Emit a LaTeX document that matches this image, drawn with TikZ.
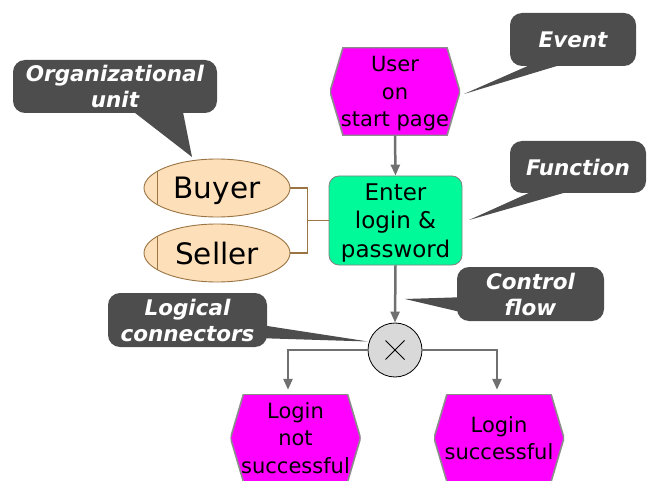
\documentclass[tikz,border=0pt]{standalone}
\usepackage{fontspec}
\setmainfont{DejaVu Sans}
\usetikzlibrary{arrows.meta,shapes.geometric,calc}

\definecolor{evfill}{HTML}{FF00FF}
\definecolor{evline}{HTML}{8C8C8C}
\definecolor{fnfill}{HTML}{00FA9A}
\definecolor{fnline}{HTML}{808080}
\definecolor{orgfill}{HTML}{FDDFB9}
\definecolor{orgline}{HTML}{9A7443}
\definecolor{flowgray}{HTML}{707070}
\definecolor{callgray}{HTML}{4D4D4D}
\definecolor{xorfill}{HTML}{D9D9D9}

\tikzset{
  event/.style={rectangle, inner sep=0pt, minimum width=130pt, minimum height=88pt,
    align=center, text depth=0pt, font=\fontsize{21}{27.2}\selectfont,
    path picture={
      \path[fill=evfill, draw=evline, line width=1.6pt]
        (path picture bounding box.west)
        -- ([xshift=13pt]path picture bounding box.north west)
        -- ([xshift=-13pt]path picture bounding box.north east)
        -- (path picture bounding box.east)
        -- ([xshift=-13pt]path picture bounding box.south east)
        -- ([xshift=13pt]path picture bounding box.south west)
        -- cycle;
    }},
  function/.style={rectangle, rounded corners=10pt, fill=fnfill, draw=fnline, line width=0.8pt,
    inner sep=0pt, minimum width=133pt, minimum height=89pt, align=center, text depth=0pt,
    font=\fontsize{23}{28.5}\selectfont},
  orgunit/.style={ellipse, fill=orgfill, draw=orgline, line width=0.9pt, inner sep=0pt,
    minimum width=146pt, minimum height=58pt, text depth=0pt, font=\fontsize{29.5}{34}\selectfont},
  callout/.style={rectangle, rounded corners=12pt, fill=callgray, text=white, inner sep=0pt,
    align=center, text depth=0pt, font=\bfseries\itshape\fontsize{21.5}{26}\selectfont},
  flow/.style={draw=flowgray, line width=2.5pt, -{Triangle[length=11pt,width=9pt]}},
  orglink/.style={draw=orgline, line width=1.1pt},
  xorgate/.style={circle, draw=black, fill=xorfill, line width=0.8pt, minimum size=54pt, inner sep=0pt}
}

\begin{document}
\begin{tikzpicture}[x=1pt,y=-1pt]
\useasboundingbox (0,0) rectangle (648,481);

% EPC elements
\node[event] (start) at (395,91.5) {User\\on\\start page};
\node[function] (enter) at (395.5,220.5) {Enter\\login \&\\password};
\node[orgunit] (buyer) at (217,188) {Buyer};
\node[orgunit] (seller) at (217,253) {Seller};
\node[xorgate] (xor) at (395,350) {};
\node[event] (fail) at (295.5,438) {Login\\not\\successful};
\node[event] (ok) at (499,438) {Login\\successful};

% role markers inside the organizational units
\foreach \u in {buyer,seller}
  \draw[orgline, line width=0.9pt] ([shift={(-60,-16.5)}]\u.center) -- ([shift={(-60,16.5)}]\u.center);

% XOR symbol
\draw[line width=0.9pt] ([shift={(-9.5,-9.5)}]xor.center) -- ([shift={(9.5,9.5)}]xor.center);
\draw[line width=0.9pt] ([shift={(-9.5,9.5)}]xor.center) -- ([shift={(9.5,-9.5)}]xor.center);

% control flow
\draw[flow] (start.south) -- (enter.north);
\draw[flow] (enter.south) -- (xor.north);
\draw[flow, shorten >=4pt] (xor.west) -| ([xshift=-7.5pt]fail.north);
\draw[flow, shorten >=4pt] (xor.east) -| ([xshift=-2pt]ok.north);

% organizational units attached to the function
\draw[orglink] (buyer.east) -- ++(17,0) coordinate (bend) |- (seller.east);
\draw[orglink] (enter.west) -- (enter.west -| bend);

% explanatory callouts
\node[callout, minimum width=126pt, minimum height=53pt] (cEvent) at (573,39.5) {Event};
\node[callout, minimum width=136pt, minimum height=52pt] (cFunc) at (578,167) {Function};
\node[callout, minimum width=204pt, minimum height=53pt] (cOrg) at (115,86.5) {Organizational\\unit};
\node[callout, minimum width=147pt, minimum height=54pt] (cFlow) at (530.5,294) {Control\\flow};
\node[callout, minimum width=159pt, minimum height=54pt] (cLogic) at (187.5,320) {Logical\\connectors};

\coordinate (tEvent) at (464,94);
\coordinate (tFunc) at (469,220);
\coordinate (tOrg) at (192,157);
\coordinate (tFlow) at (405,299);
\coordinate (tLogic) at (368,341.5);

\fill[callgray] ([shift={(22,-2)}]cEvent.south west) -- (tEvent) -- ([shift={(53,-2)}]cEvent.south west) -- cycle;
\fill[callgray] ([shift={(23,-2)}]cFunc.south west) -- (tFunc) -- ([shift={(60,-2)}]cFunc.south west) -- cycle;
\fill[callgray] ([shift={(120,-2)}]cOrg.south west) -- (tOrg) -- ([shift={(170,-2)}]cOrg.south west) -- cycle;
\fill[callgray] ([shift={(5,-24)}]cFlow.south west) -- (tFlow) -- ([shift={(13,-7)}]cFlow.south west) -- cycle;
\fill[callgray] ([shift={(-5,-22)}]cLogic.south east) -- (tLogic) -- ([shift={(-5,-9)}]cLogic.south east) -- cycle;
\end{tikzpicture}
\end{document}
